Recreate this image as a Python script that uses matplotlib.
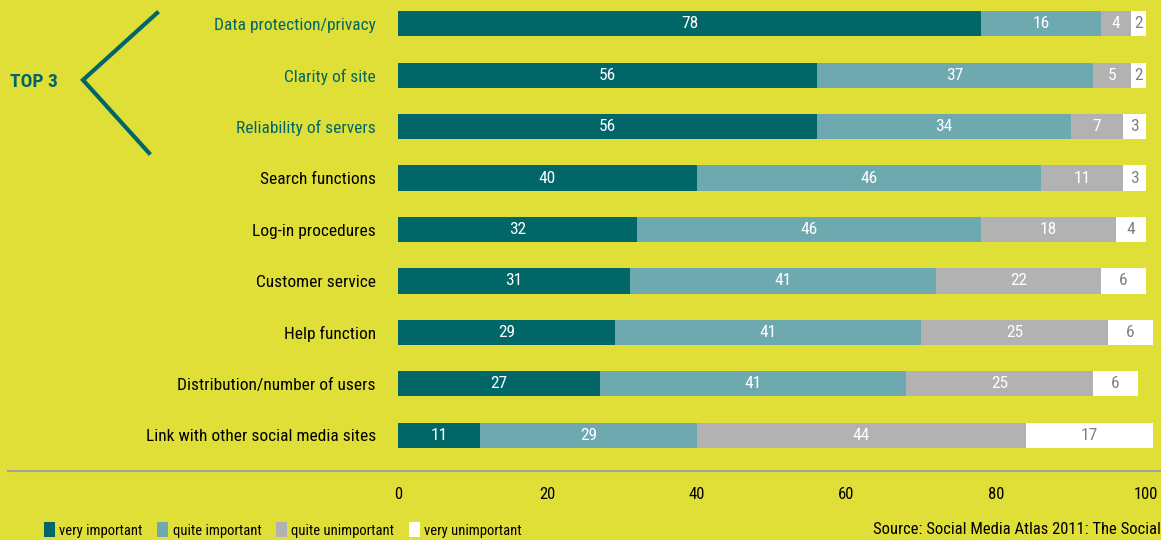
import numpy as np
import matplotlib.pyplot as plt
from matplotlib.patches import Patch
from matplotlib.lines import Line2D

categories = [
    "Data protection/privacy",
    "Clarity of site",
    "Reliability of servers",
    "Search functions",
    "Log-in procedures",
    "Customer service",
    "Help function",
    "Distribution/number of users",
    "Link with other social media sites",
]
very_important = [78, 56, 56, 40, 32, 31, 29, 27, 11]
quite_important = [16, 37, 34, 46, 46, 41, 41, 41, 29]
quite_unimportant = [4, 5, 7, 11, 18, 22, 25, 25, 44]
very_unimportant = [2, 2, 3, 3, 4, 6, 6, 6, 17]
series_names = ["very important", "quite important", "quite unimportant", "very unimportant"]
xticks = [0, 20, 40, 60, 80, 100]

BG = "#dfdf37"
TEAL = "#006668"
colors = [TEAL, "#6fa9b0", "#b2b2b2", "#ffffff"]
text_colors = ["white", "white", "white", "#808080"]

plt.rcParams["font.family"] = ["Roboto Condensed", "Roboto", "DejaVu Sans"]

W, H = 1161, 540
fig = plt.figure(figsize=(W / 100, H / 100), dpi=100, facecolor=BG)
ax = fig.add_axes([398 / W, 1 - 461 / H, 755 / W, 463 / H])
ax.set_facecolor(BG)

y = np.arange(len(categories))
left = np.zeros(len(categories))
for vals, c, tc, name in zip(
    [very_important, quite_important, quite_unimportant, very_unimportant],
    colors, text_colors, series_names,
):
    vals = np.array(vals, dtype=float)
    ax.barh(y, vals, left=left, height=0.49, color=c, edgecolor="none",
            label=name, clip_on=False)
    for yi, l, v in zip(y, left, vals):
        ax.text(l + v / 2, yi, f"{int(v)}", ha="center", va="center",
                color=tc, fontsize=12.5, clip_on=False)
    left += vals

ax.set_xlim(0, 101)
ax.set_ylim(len(categories) - 0.5, -0.5)
ax.set_yticks(y)
ax.set_yticklabels(categories, fontsize=12.5)
for i, lab in enumerate(ax.get_yticklabels()):
    lab.set_color(TEAL if i < 3 else "black")
ax.set_xticks(xticks)
ax.set_xticklabels([str(t) for t in xticks], fontsize=12)
ax.tick_params(axis="y", length=0, pad=16)
ax.tick_params(axis="x", length=0, pad=19)
for s in ax.spines.values():
    s.set_visible(False)

# separator above the scale
fig.add_artist(Line2D([8 / W, 1], [1 - 471 / H, 1 - 471 / H], color="#a0a0a0", lw=1.5))

# "TOP 3" bracket
fig.text(10 / W, 1 - 82 / H, "TOP 3", color=TEAL, fontsize=14, fontweight="bold",
         ha="left", va="center")
fig.add_artist(Line2D([157 / W, 83 / W, 149 / W], [1 - 13 / H, 1 - 80 / H, 1 - 153 / H],
                      color=TEAL, lw=3.0, solid_joinstyle="miter"))

handles = [Patch(facecolor=c, edgecolor="none") for c in colors]
fig.legend(handles, series_names, loc="center left", bbox_to_anchor=(44 / W, 1 - 530 / H),
           ncol=4, frameon=False, fontsize=10.5, handlelength=0.75, handleheight=1.2,
           handletextpad=0.3, columnspacing=1.0, borderaxespad=0, borderpad=0)

fig.text(873 / W, 1 - 530 / H, "Source: Social Media Atlas 2011: The Social",
         fontsize=12, ha="left", va="center")

fig.savefig("out.png", dpi=100, facecolor=BG)
